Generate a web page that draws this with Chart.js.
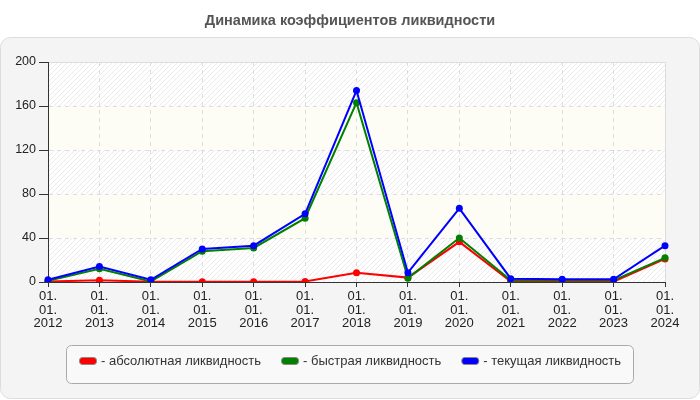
<!DOCTYPE html>
<html>
<head>
<meta charset="utf-8">
<script src="https://cdn.jsdelivr.net/npm/chart.js@4.4.0/dist/chart.umd.min.js"></script>
<style>
  html, body { margin: 0; padding: 0; background: #fff; }
  #wrap { width: 700px; height: 400px; position: relative; }
</style>
</head>
<body>
<div id="wrap"><canvas id="grafico"></canvas></div>
<script>
// Данные графика
const anos = ['2012', '2013', '2014', '2015', '2016', '2017', '2018', '2019', '2020', '2021', '2022', '2023', '2024'];
const absoluta = [0.5, 1.5, 0.3, 0.3, 0.3, 0.5, 8.5, 4, 36.5, 0.5, 0.3, 0.3, 21];
const rapida = [1, 12, 0.5, 28, 31, 58, 163, 3.5, 40, 1.5, 1.5, 1.5, 22];
const corrente = [2, 14, 2, 30, 33, 62, 174, 8.5, 67, 3, 2.5, 2.5, 33];
const nomesSeries = ['- абсолютная ликвидность', '- быстрая ликвидность', '- текущая ликвидность'];
const coresSeries = ['#ff0000', '#008000', '#0000ff'];
const titulo = 'Динамика коэффициентов ликвидности';

const fonte = '"Liberation Sans", Arial, sans-serif';

// Padrão de hachura para o fundo
function criarHachura(ctx) {
  const c = document.createElement('canvas');
  c.width = 5; c.height = 5;
  const g = c.getContext('2d');
  g.fillStyle = '#ffffff';
  g.fillRect(0, 0, 5, 5);
  g.strokeStyle = '#ebebeb';
  g.lineWidth = 1;
  g.beginPath();
  g.moveTo(0, 5); g.lineTo(5, 0);
  g.moveTo(-1, 1); g.lineTo(1, -1);
  g.moveTo(4, 6); g.lineTo(6, 4);
  g.stroke();
  return ctx.createPattern(c, 'repeat');
}

function retanguloArredondado(ctx, x, y, w, h, r) {
  ctx.beginPath();
  ctx.moveTo(x + r, y);
  ctx.lineTo(x + w - r, y);
  ctx.arcTo(x + w, y, x + w, y + r, r);
  ctx.lineTo(x + w, y + h - r);
  ctx.arcTo(x + w, y + h, x + w - r, y + h, r);
  ctx.lineTo(x + r, y + h);
  ctx.arcTo(x, y + h, x, y + h - r, r);
  ctx.lineTo(x, y + r);
  ctx.arcTo(x, y, x + r, y, r);
  ctx.closePath();
}

// Fundo: painel cinza + faixas alternadas na área do gráfico
const pluginFundo = {
  id: 'fundo',
  beforeDraw(chart) {
    const ctx = chart.ctx;
    const area = chart.chartArea;
    const y = chart.scales.y;
    ctx.save();
    ctx.fillStyle = '#ffffff';
    ctx.fillRect(0, 0, chart.width, chart.height);

    // Título
    ctx.fillStyle = '#555555';
    ctx.font = 'bold 14.5px ' + fonte;
    ctx.textAlign = 'center';
    ctx.textBaseline = 'middle';
    ctx.fillText(titulo, chart.width / 2, 21);

    retanguloArredondado(ctx, 0.5, 37.5, chart.width - 1, 361, 10);
    ctx.fillStyle = '#f4f4f4';
    ctx.fill();
    ctx.strokeStyle = '#dddddd';
    ctx.lineWidth = 1;
    ctx.stroke();

    const hachura = criarHachura(ctx);
    const ticks = y.ticks;
    for (let i = 0; i < ticks.length - 1; i++) {
      const y0 = y.getPixelForValue(ticks[i].value);
      const y1 = y.getPixelForValue(ticks[i + 1].value);
      ctx.fillStyle = (i % 2 === 0) ? hachura : '#fdfdf6';
      ctx.fillRect(area.left, y1, area.right - area.left, y0 - y1);
    }
    ctx.strokeStyle = '#dddddd';
    ctx.strokeRect(area.left + 0.5, area.top + 0.5, area.right - area.left, area.bottom - area.top);
    ctx.restore();
  },
  afterDraw(chart) {
    // Legenda desenhada à mão, dentro de uma caixa
    const ctx = chart.ctx;
    ctx.save();
    retanguloArredondado(ctx, 66.5, 345.5, 567, 38, 5);
    ctx.fillStyle = '#f9f9f9';
    ctx.fill();
    ctx.strokeStyle = '#aaaaaa';
    ctx.lineWidth = 1;
    ctx.stroke();

    ctx.font = '13px ' + fonte;
    const larguraCaixa = 18, espaco = 4, intervalo = 20;
    const larguras = nomesSeries.map(t => larguraCaixa + espaco + ctx.measureText(t).width);
    const total = larguras.reduce((a, b) => a + b, 0) + intervalo * (nomesSeries.length - 1);
    let x = Math.round(chart.width / 2 - total / 2);
    const yc = 361;
    nomesSeries.forEach((nome, i) => {
      retanguloArredondado(ctx, x + 0.5, yc - 3.5, larguraCaixa - 1, 7, 3);
      ctx.fillStyle = coresSeries[i];
      ctx.fill();
      ctx.strokeStyle = '#888888';
      ctx.stroke();
      ctx.fillStyle = '#333333';
      ctx.textBaseline = 'middle';
      ctx.textAlign = 'left';
      ctx.fillText(nome, x + larguraCaixa + espaco, yc);
      x += larguras[i] + intervalo;
    });
    ctx.restore();
  }
};

const dadosSeries = [absoluta, rapida, corrente];
const ctx = document.getElementById('grafico').getContext('2d');
const grafico = new Chart(ctx, {
  type: 'line',
  data: {
    labels: anos.map(a => ['01.', '01.', a]),
    datasets: dadosSeries.map((d, i) => ({
      label: nomesSeries[i],
      data: d,
      borderColor: coresSeries[i],
      backgroundColor: coresSeries[i],
      pointBackgroundColor: coresSeries[i],
      pointBorderColor: coresSeries[i],
      borderWidth: 2,
      pointRadius: 3.5,
      pointBorderWidth: 0,
      tension: 0,
      order: 3 - i
    }))
  },
  options: {
    responsive: true,
    maintainAspectRatio: false,
    animation: false,
    layout: { padding: { left: 0, right: 35, top: 62, bottom: 70 } },
    plugins: {
      legend: { display: false },
      tooltip: { enabled: false },
      title: { display: false }
    },
    scales: {
      x: {
        offset: false,
        afterFit(scale) { scale.height = 48; },
        grid: {
          color: '#dddddd',
          drawTicks: true,
          tickLength: 5,
          tickColor: '#333333',
          tickBorderDash: [],
          lineWidth: 1
        },
        border: { display: true, color: '#333333', width: 1, dash: [4, 4] },
        ticks: {
          color: '#222222',
          maxRotation: 0,
          autoSkip: false,
          padding: 3,
          font: { family: fonte, size: 13, lineHeight: 1.04 }
        }
      },
      y: {
        min: 0,
        max: 200,
        afterFit(scale) { scale.width = 48; },
        grid: {
          color: '#dddddd',
          drawTicks: true,
          tickLength: 9,
          tickColor: '#333333',
          tickBorderDash: []
        },
        border: { display: true, color: '#333333', width: 1, dash: [4, 4] },
        ticks: {
          stepSize: 40,
          color: '#222222',
          padding: 3,
          font: { family: fonte, size: 12.5 }
        }
      }
    }
  },
  plugins: [pluginFundo]
});
</script>
</body>
</html>
